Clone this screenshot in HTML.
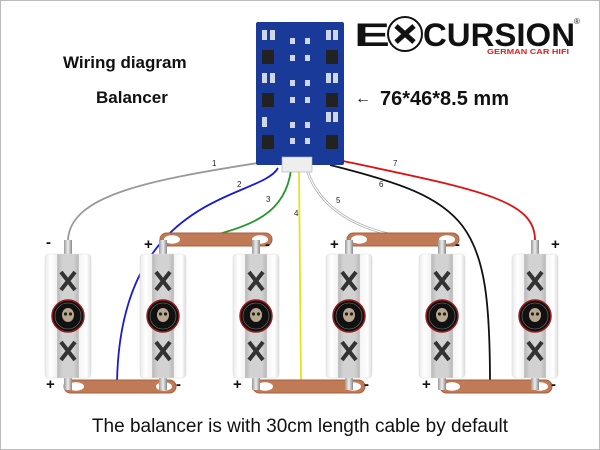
<!DOCTYPE html>
<html><head><meta charset="utf-8"><style>
html,body{margin:0;padding:0;background:#fff;}
svg{display:block;font-family:"Liberation Sans",sans-serif;}
</style></head><body>
<svg width="600" height="450" viewBox="0 0 600 450" xmlns="http://www.w3.org/2000/svg">
<defs>
<linearGradient id="bg" x1="0" x2="1">
<stop offset="0" stop-color="#e9e9e9"/><stop offset="0.12" stop-color="#ffffff"/><stop offset="0.26" stop-color="#f2f2f2"/>
<stop offset="0.27" stop-color="#b8b8b8"/><stop offset="0.38" stop-color="#d2d2d2"/><stop offset="0.62" stop-color="#d2d2d2"/><stop offset="0.73" stop-color="#b8b8b8"/>
<stop offset="0.74" stop-color="#f4f4f4"/><stop offset="0.9" stop-color="#ffffff"/><stop offset="1" stop-color="#dcdcdc"/>
</linearGradient>
<linearGradient id="term" x1="0" x2="1"><stop offset="0" stop-color="#999"/><stop offset="0.5" stop-color="#eee"/><stop offset="1" stop-color="#888"/></linearGradient>
<g id="cap">
<rect x="-4" y="-78" width="8" height="16" fill="url(#term)"/>
<rect x="-4" y="58" width="8" height="14" fill="url(#term)"/>
<rect x="-23" y="-64" width="46" height="124" rx="4" fill="url(#bg)" stroke="#ddd" stroke-width="0.6"/>
<path d="M-7 -46 L7 -28 M7 -46 L-7 -28" stroke="#333" stroke-width="4"/>
<path d="M-7 24 L7 42 M7 24 L-7 42" stroke="#333" stroke-width="4"/>
<circle cx="0" cy="-2" r="16" fill="#111" stroke="#9b1c1c" stroke-width="1.5"/>
<circle cx="0" cy="-2" r="13" fill="none" stroke="#777" stroke-width="0.6"/>
<ellipse cx="0" cy="-3" rx="6" ry="7" fill="#b8a890"/>
<circle cx="-2.5" cy="-4" r="1.6" fill="#222"/><circle cx="2.5" cy="-4" r="1.6" fill="#222"/>
</g>
<g id="bar">
<rect x="0" y="0" width="112" height="13" rx="6.5" fill="#c07b56" stroke="#a55f3e" stroke-width="1"/>
<ellipse cx="12" cy="6.5" rx="8" ry="4.2" fill="#fff"/>
<ellipse cx="100" cy="6.5" rx="8" ry="4.2" fill="#fff"/>
</g>
</defs>
<rect x="0.5" y="0.5" width="599" height="449" fill="#fff" stroke="#bbb"/>

<g fill="none" stroke-width="1.8">
<path d="M258 163 C150 180 70 195 68 240" stroke="#999"/>
<path d="M278 168 C260 200 120 190 117 383" stroke="#1a1ad0"/>
<path d="M291 170 C285 215 250 225 212 236" stroke="#1f9a2a"/>
<path d="M299 170 L301 383" stroke="#e8e020"/>
<path d="M307 170 C320 210 360 230 400 236" stroke="#aaa" stroke-width="2.6"/>
<path d="M307 170 C320 210 360 230 400 236" stroke="#fff" stroke-width="1.2"/>
<path d="M330 165 C470 200 490 220 490 383" stroke="#111"/>
<path d="M343 161 C480 190 535 200 535 240" stroke="#e01010"/>
</g>
<g font-size="8" fill="#222">
<text x="212" y="166">1</text><text x="237" y="187">2</text><text x="266" y="202">3</text>
<text x="294" y="216">4</text><text x="336" y="203">5</text><text x="379" y="187">6</text><text x="393" y="166">7</text>
</g>

<rect x="256" y="22" width="88" height="143" rx="2" fill="#1a3a9a"/>
<g fill="#222">
<rect x="262" y="50" width="12" height="14"/><rect x="262" y="93" width="12" height="14"/><rect x="262" y="135" width="12" height="14"/>
<rect x="326" y="50" width="12" height="14"/><rect x="326" y="93" width="12" height="14"/><rect x="326" y="135" width="12" height="14"/>
</g>
<g fill="#cfd6e8">
<rect x="262" y="30" width="5" height="10"/><rect x="270" y="30" width="5" height="10"/><rect x="326" y="30" width="5" height="10"/><rect x="333" y="30" width="5" height="10"/>
<rect x="262" y="73" width="5" height="10"/><rect x="270" y="73" width="5" height="10"/><rect x="326" y="73" width="5" height="10"/><rect x="333" y="73" width="5" height="10"/>
<rect x="262" y="117" width="5" height="10"/><rect x="326" y="112" width="5" height="10"/><rect x="333" y="112" width="5" height="10"/>
<rect x="290" y="38" width="5" height="6"/><rect x="305" y="38" width="5" height="6"/><rect x="290" y="55" width="5" height="6"/><rect x="305" y="55" width="5" height="6"/>
<rect x="290" y="80" width="5" height="6"/><rect x="305" y="80" width="5" height="6"/><rect x="290" y="97" width="5" height="6"/><rect x="305" y="97" width="5" height="6"/>
<rect x="290" y="122" width="5" height="6"/><rect x="305" y="122" width="5" height="6"/><rect x="290" y="138" width="5" height="6"/><rect x="305" y="138" width="5" height="6"/>
</g>
<rect x="282" y="157" width="30" height="15" fill="#eee" stroke="#aaa" stroke-width="0.6"/>

<use href="#bar" x="160" y="233"/>
<use href="#bar" x="347" y="233"/>
<use href="#bar" x="64" y="380"/>
<use href="#bar" x="253" y="380"/>
<use href="#bar" x="440" y="380"/>

<use href="#cap" x="68" y="318"/>
<use href="#cap" x="163" y="318"/>
<use href="#cap" x="256" y="318"/>
<use href="#cap" x="349" y="318"/>
<use href="#cap" x="442" y="318"/>
<use href="#cap" x="535" y="318"/>

<g font-size="15" font-weight="bold" fill="#111">
<text x="46" y="247">-</text><text x="46" y="389">+</text>
<text x="144" y="249">+</text><text x="176" y="389">-</text>
<text x="265" y="249">-</text><text x="233" y="389">+</text>
<text x="330" y="249">+</text><text x="364" y="389">-</text>
<text x="455" y="249">-</text><text x="422" y="389">+</text>
<text x="551" y="249">+</text><text x="551" y="389">-</text>
</g>

<text x="63" y="68" font-size="17" font-weight="bold" fill="#111">Wiring diagram</text>
<text x="96" y="103" font-size="17" font-weight="bold" fill="#111">Balancer</text>
<text x="355" y="103" font-size="16" fill="#111">←</text>
<text x="380" y="105" font-size="20" font-weight="bold" fill="#111">76*46*8.5 mm</text>

<text x="354" y="46" font-size="32" font-weight="900" fill="#111" textLength="36" lengthAdjust="spacingAndGlyphs">E</text>
<circle cx="405" cy="34" r="17" fill="#fff" stroke="#111" stroke-width="2"/>
<path d="M396 26 L414 42 M414 26 L396 42" stroke="#111" stroke-width="5"/>
<text x="423" y="46" font-size="32" font-weight="900" fill="#111" textLength="152" lengthAdjust="spacingAndGlyphs">CURSION</text>
<text x="487" y="54" font-size="7" font-weight="bold" fill="#e02020" textLength="82" lengthAdjust="spacingAndGlyphs">GERMAN CAR HIFI</text>
<text x="574" y="24" font-size="8" fill="#111">®</text>

<text x="300" y="432" font-size="19" fill="#111" text-anchor="middle">The balancer is with 30cm length cable by default</text>
</svg>
</body></html>
